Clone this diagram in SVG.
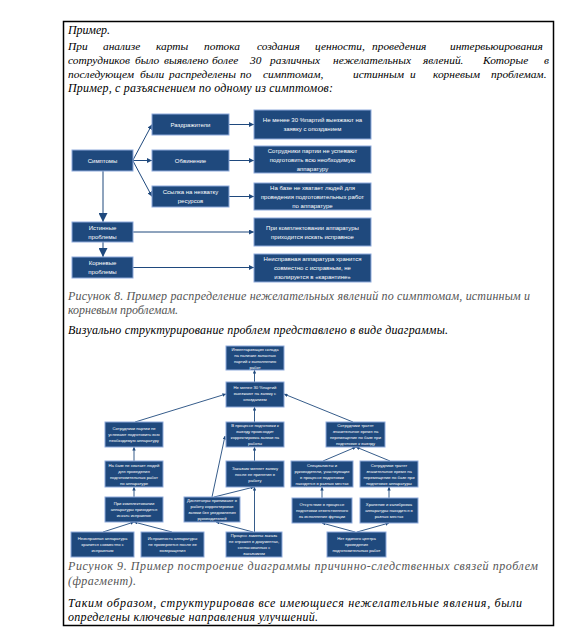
<svg xmlns="http://www.w3.org/2000/svg" width="588" height="635" viewBox="0 0 588 635">
<style>
.body{font-family:"Liberation Serif","Times New Roman",serif;font-style:italic;font-size:12px;fill:#000}
.j{font-size:11.4px}
.cap{font-family:"Liberation Serif","Times New Roman",serif;font-style:italic;font-size:12px;fill:#555}
.b{fill:#1f497d;stroke:#8eaadb;stroke-width:1}
.t1{font-family:"Liberation Sans",Arial,sans-serif;font-size:6px;fill:#fff;text-anchor:middle}
.t2{font-family:"Liberation Sans",Arial,sans-serif;font-size:4.2px;fill:#fff;text-anchor:middle}
.c{stroke:#1f497d;stroke-width:1;fill:none}
.c2{stroke:#1f497d;stroke-width:0.9;fill:none;marker-end:url(#a2)}
</style>
<defs>
<marker id="a1" viewBox="0 0 10 10" refX="10" refY="5" markerWidth="5" markerHeight="5" orient="auto" markerUnits="userSpaceOnUse"><path d="M0,0 L10,5 L0,10 z" fill="#1f497d"/></marker>
<marker id="a3" viewBox="0 0 10 10" refX="10" refY="5" markerWidth="9" markerHeight="9" orient="auto" markerUnits="userSpaceOnUse"><path d="M0,0 L10,5 L0,10 z" fill="#1f497d"/></marker>
<marker id="a2" viewBox="0 0 10 10" refX="10" refY="5" markerWidth="3.5" markerHeight="3.5" orient="auto" markerUnits="userSpaceOnUse"><path d="M0,0 L10,5 L0,10 z" fill="#1f497d"/></marker>
</defs>
<rect x="63.5" y="21.5" width="490" height="604" fill="#fff" stroke="#000" stroke-width="1.5"/>

<g id="intro">
<text class="body" x="68" y="34" textLength="42">Пример.</text>
<text class="body j" y="50"><tspan x="68">При</tspan><tspan x="103">анализе</tspan><tspan x="156">карты</tspan><tspan x="204">потока</tspan><tspan x="257">создания</tspan><tspan x="315">ценности,</tspan><tspan x="372">проведения</tspan><tspan x="450">интервьюирования</tspan></text>
<text class="body j" y="64"><tspan x="68">сотрудников</tspan><tspan x="135">было</tspan><tspan x="164">выявлено</tspan><tspan x="212">более</tspan><tspan x="250">30</tspan><tspan x="270">различных</tspan><tspan x="333">нежелательных</tspan><tspan x="423">явлений.</tspan><tspan x="483">Которые</tspan><tspan x="544">в</tspan></text>
<text class="body j" y="78"><tspan x="68">последующем</tspan><tspan x="140">были</tspan><tspan x="169">распределены</tspan><tspan x="240">по</tspan><tspan x="263">симптомам,</tspan><tspan x="353">истинным</tspan><tspan x="410">и</tspan><tspan x="433">корневым</tspan><tspan x="491">проблемам.</tspan></text>
<text class="body" x="68" y="92" textLength="265">Пример, с разъяснением по одному из симптомов:</text>
</g>

<g id="connectors1">
<line class="c" x1="133" y1="160" x2="152" y2="124.5" marker-end="url(#a1)"/>
<line class="c" x1="133" y1="160.5" x2="152" y2="160.5" marker-end="url(#a1)"/>
<line class="c" x1="133" y1="161" x2="152" y2="196.5" marker-end="url(#a1)"/>
<line class="c" x1="229" y1="124.5" x2="254" y2="124.5" marker-end="url(#a1)"/>
<line class="c" x1="229" y1="160.5" x2="254" y2="160.5" marker-end="url(#a1)"/>
<line class="c" x1="229" y1="196.5" x2="254" y2="196.5" marker-end="url(#a1)"/>
<line class="c" x1="133" y1="232" x2="254" y2="232" marker-end="url(#a1)"/>
<line class="c" x1="133" y1="267.5" x2="254" y2="267.5" marker-end="url(#a1)"/>
<line class="c" x1="103" y1="171" x2="103" y2="222" stroke-width="2" marker-end="url(#a3)"/>
<line class="c" x1="103" y1="242" x2="103" y2="257" stroke-width="2" marker-end="url(#a3)"/>
</g>

<g id="n1-simptomy"><rect class="b" x="72" y="150" width="61" height="21"/><text class="t1" x="102.5" y="162.6">Симптомы</text></g>
<g id="n1-razdr"><rect class="b" x="152" y="114" width="77" height="21"/><text class="t1" x="190.5" y="126.6">Раздражители</text></g>
<g id="n1-obvin"><rect class="b" x="152" y="150" width="77" height="21"/><text class="t1" x="190.5" y="162.6">Обвинение</text></g>
<g id="n1-ssylka"><rect class="b" x="152" y="186" width="77" height="21"/><text class="t1" x="190.5" y="194.1">Ссылка на нехватку</text><text class="t1" x="190.5" y="203.1">ресурсов</text></g>
<g id="n1-r1"><rect class="b" x="254" y="110" width="117" height="29"/><text class="t1" x="312.5" y="122.1">Не менее 30 %партий выезжают на</text><text class="t1" x="312.5" y="131.1">заявку с опозданием</text></g>
<g id="n1-r2"><rect class="b" x="254" y="146" width="117" height="27"/><text class="t1" x="312.5" y="152.6">Сотрудники партии не успевают</text><text class="t1" x="312.5" y="161.6">подготовить всю необходимую</text><text class="t1" x="312.5" y="170.6">аппаратуру</text></g>
<g id="n1-r3"><rect class="b" x="254" y="183" width="117" height="27"/><text class="t1" x="312.5" y="189.6">На базе не хватает людей для</text><text class="t1" x="312.5" y="198.6">проведения подготовительных работ</text><text class="t1" x="312.5" y="207.6">по аппаратуре</text></g>
<g id="n1-istin"><rect class="b" x="72" y="222" width="61" height="20"/><text class="t1" x="102.5" y="229.6">Истинные</text><text class="t1" x="102.5" y="238.6">проблемы</text></g>
<g id="n1-r4"><rect class="b" x="254" y="218" width="117" height="28"/><text class="t1" x="312.5" y="229.6">При комплектовании аппаратуры</text><text class="t1" x="312.5" y="238.6">приходится искать исправное</text></g>
<g id="n1-korn"><rect class="b" x="72" y="257" width="61" height="21"/><text class="t1" x="102.5" y="265.1">Корневые</text><text class="t1" x="102.5" y="274.1">проблемы</text></g>
<g id="n1-r5"><rect class="b" x="254" y="254" width="117" height="28"/><text class="t1" x="312.5" y="261.1">Неисправная аппаратура хранится</text><text class="t1" x="312.5" y="270.1">совместно с исправным, не</text><text class="t1" x="312.5" y="279.1">изолируется в «карантине»</text></g>

<g id="captions">
<text class="cap" x="68" y="300" textLength="462">Рисунок 8. Пример распределение нежелательных явлений по симптомам, истинным и</text>
<text class="cap" x="68" y="314" textLength="110">корневым проблемам.</text>
<text class="body" x="68" y="334" textLength="380">Визуально структурирование проблем представлено в виде диаграммы.</text>
<text class="cap" x="68" y="570" textLength="470">Рисунок 9. Пример построение диаграммы причинно-следственных связей проблем</text>
<text class="cap" x="68" y="585" textLength="68">(фрагмент).</text>
<text class="body" x="68" y="607" textLength="454">Таким образом, структурировав все имеющиеся нежелательные явления, были</text>
<text class="body" x="68" y="621" textLength="250">определены ключевые направления улучшений.</text>
</g>

<g id="connectors2">
<line class="c2" x1="254.5" y1="382" x2="254.5" y2="370"/>
<line class="c2" x1="135" y1="422" x2="226" y2="394"/>
<line class="c2" x1="353" y1="422" x2="284" y2="394"/>
<line class="c2" x1="254.5" y1="422" x2="254.5" y2="407"/>
<line class="c2" x1="134" y1="461" x2="134" y2="447"/>
<line class="c2" x1="254.5" y1="461" x2="254.5" y2="447"/>
<line class="c2" x1="323" y1="461" x2="356" y2="447"/>
<line class="c2" x1="390" y1="461" x2="356" y2="447"/>
<line class="c2" x1="134" y1="497" x2="134" y2="487"/>
<line class="c2" x1="212" y1="497" x2="225" y2="436"/>
<line class="c2" x1="214" y1="497" x2="254" y2="487"/>
<line class="c2" x1="322" y1="498" x2="322" y2="487"/>
<line class="c2" x1="389" y1="498" x2="389" y2="487"/>
<line class="c2" x1="103" y1="532" x2="134" y2="522"/>
<line class="c2" x1="172" y1="532" x2="134" y2="522"/>
<line class="c2" x1="254.5" y1="532" x2="254.5" y2="487"/>
<line class="c2" x1="253" y1="532" x2="216" y2="522"/>
<line class="c2" x1="355" y1="532" x2="322" y2="523"/>
<line class="c2" x1="357" y1="532" x2="389" y2="523"/>
</g>

<g id="n2-invent"><rect class="b" x="226" y="346" width="58" height="24"/><text class="t2" x="255" y="350.5">Инвентаризация склада</text><text class="t2" x="255" y="356.5">на наличие запасных</text><text class="t2" x="255" y="362.5">партий к выполнению</text><text class="t2" x="255" y="368.5">работ</text></g>
<g id="n2-nemenee"><rect class="b" x="226" y="382" width="58" height="25"/><text class="t2" x="255" y="389">Не менее 30 %партий</text><text class="t2" x="255" y="395">выезжают на заявку с</text><text class="t2" x="255" y="401">опозданием</text></g>
<g id="n2-sotr1"><rect class="b" x="105" y="422" width="58" height="25"/><text class="t2" x="134" y="430">Сотрудники партии не</text><text class="t2" x="134" y="436">успевают подготовить всю</text><text class="t2" x="134" y="442">необходимую аппаратуру</text></g>
<g id="n2-vproc"><rect class="b" x="226" y="422" width="58" height="25"/><text class="t2" x="255" y="427">В процессе подготовки к</text><text class="t2" x="255" y="433">выезду происходит</text><text class="t2" x="255" y="439">корректировка заявки на</text><text class="t2" x="255" y="445">работы</text></g>
<g id="n2-sotr2"><rect class="b" x="326" y="422" width="59" height="25"/><text class="t2" x="355.5" y="427">Сотрудники тратят</text><text class="t2" x="355.5" y="433">значительное время на</text><text class="t2" x="355.5" y="439">перемещение по базе при</text><text class="t2" x="355.5" y="445">подготовке к выезду</text></g>
<g id="n2-nabaze"><rect class="b" x="105" y="461" width="58" height="26"/><text class="t2" x="134" y="466.5">На базе не хватает людей</text><text class="t2" x="134" y="472.5">для проведения</text><text class="t2" x="134" y="478.5">подготовительных работ</text><text class="t2" x="134" y="484.5">по аппаратуре</text></g>
<g id="n2-zakaz"><rect class="b" x="226" y="461" width="58" height="26"/><text class="t2" x="255" y="469.5">Заказчик меняет заявку</text><text class="t2" x="255" y="475.5">после ее принятия в</text><text class="t2" x="255" y="481.5">работу</text></g>
<g id="n2-spec"><rect class="b" x="291" y="461" width="62" height="26"/><text class="t2" x="322" y="466.5">Специалисты и</text><text class="t2" x="322" y="472.5">руководители, участвующие</text><text class="t2" x="322" y="478.5">в процессе подготовки</text><text class="t2" x="322" y="484.5">находятся в разных местах</text></g>
<g id="n2-sotr3"><rect class="b" x="360" y="461" width="58" height="26"/><text class="t2" x="389" y="466.5">Сотрудники тратят</text><text class="t2" x="389" y="472.5">значительное время на</text><text class="t2" x="389" y="478.5">перемещение по базе при</text><text class="t2" x="389" y="484.5">подготовке аппаратуры</text></g>
<g id="n2-prikompl"><rect class="b" x="105" y="497" width="58" height="25"/><text class="t2" x="134" y="505">При комплектовании</text><text class="t2" x="134" y="511">аппаратуры приходится</text><text class="t2" x="134" y="517">искать исправное</text></g>
<g id="n2-disp"><rect class="b" x="184" y="497" width="56" height="25"/><text class="t2" x="212" y="502">Диспетчеры принимают в</text><text class="t2" x="212" y="508">работу корректировки</text><text class="t2" x="212" y="514">заявки без уведомления</text><text class="t2" x="212" y="520">руководителей</text></g>
<g id="n2-otsut"><rect class="b" x="292" y="498" width="60" height="25"/><text class="t2" x="322" y="506">Отсутствие в процессе</text><text class="t2" x="322" y="512">подготовки ответственного</text><text class="t2" x="322" y="518">за исполнение функции</text></g>
<g id="n2-hran"><rect class="b" x="360" y="498" width="58" height="25"/><text class="t2" x="389" y="506">Хранение и калибровка</text><text class="t2" x="389" y="512">аппаратуры находится в</text><text class="t2" x="389" y="518">разных местах</text></g>
<g id="n2-neispr"><rect class="b" x="71" y="532" width="63" height="25"/><text class="t2" x="102.5" y="540">Неисправная аппаратура</text><text class="t2" x="102.5" y="546">хранится совместно с</text><text class="t2" x="102.5" y="552">исправным</text></g>
<g id="n2-ispr"><rect class="b" x="141" y="532" width="63" height="25"/><text class="t2" x="172.5" y="540">Исправность аппаратуры</text><text class="t2" x="172.5" y="546">не проверяется после ее</text><text class="t2" x="172.5" y="552">возвращения</text></g>
<g id="n2-process"><rect class="b" x="226" y="532" width="56" height="25"/><text class="t2" x="254" y="537">Процесс замены заказа</text><text class="t2" x="254" y="543">не отражен в документах,</text><text class="t2" x="254" y="549">согласованных с</text><text class="t2" x="254" y="555">заказчиком</text></g>
<g id="n2-net"><rect class="b" x="327" y="532" width="59" height="25"/><text class="t2" x="356.5" y="540">Нет единого центра</text><text class="t2" x="356.5" y="546">проведения</text><text class="t2" x="356.5" y="552">подготовительных работ</text></g>
</svg>
